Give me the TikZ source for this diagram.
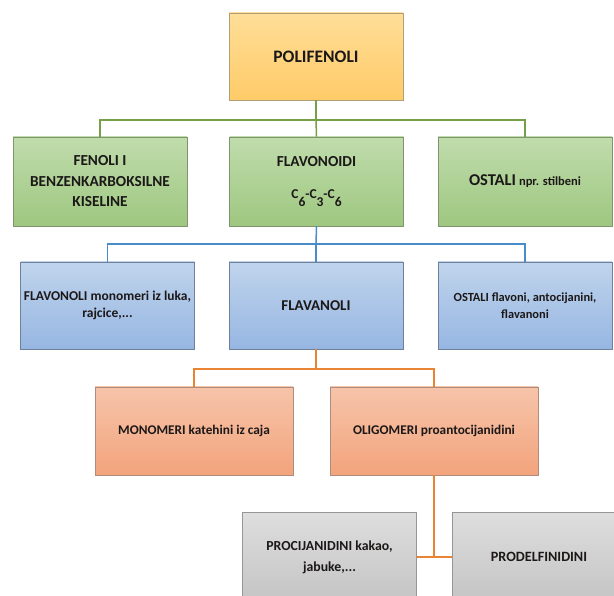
\documentclass[tikz,border=0pt]{standalone}
\usepackage{fontspec}
\setmainfont{Carlito}
\definecolor{gtop}{RGB}{255,222,152}
\definecolor{gbot}{RGB}{255,203,104}
\definecolor{gbrd}{RGB}{176,160,120}
\definecolor{grtop}{RGB}{192,220,172}
\definecolor{grbot}{RGB}{158,199,128}
\definecolor{grbrd}{RGB}{128,148,112}
\definecolor{bltop}{RGB}{192,212,236}
\definecolor{blbot}{RGB}{150,182,226}
\definecolor{blbrd}{RGB}{112,128,156}
\definecolor{ortop}{RGB}{246,196,170}
\definecolor{orbot}{RGB}{243,164,124}
\definecolor{orbrd}{RGB}{176,140,124}
\definecolor{gytop}{RGB}{222,222,222}
\definecolor{gybot}{RGB}{196,196,196}
\definecolor{gybrd}{RGB}{150,150,150}
\definecolor{lgreen}{RGB}{118,160,72}
\definecolor{lblue}{RGB}{72,140,200}
\definecolor{lorange}{RGB}{232,132,52}
\definecolor{txt}{RGB}{28,24,24}
\begin{document}
\begin{tikzpicture}[x=1pt,y=-1pt,
  box/.style={rectangle, draw, line width=0.8pt, inner sep=2pt, align=center,
    minimum width=174pt, minimum height=88pt, text=txt,
    font=\bfseries\fontsize{13}{16.5}\selectfont},
  goldbox/.style={box, top color=gtop, bottom color=gbot, draw=gbrd},
  greenbox/.style={box, top color=grtop, bottom color=grbot, draw=grbrd},
  bluebox/.style={box, top color=bltop, bottom color=blbot, draw=blbrd},
  salmonbox/.style={box, top color=ortop, bottom color=orbot, draw=orbrd},
  graybox/.style={box, top color=gytop, bottom color=gybot, draw=gybrd},
  gline/.style={draw=lgreen, line width=1.5pt},
  bline/.style={draw=lblue, line width=1.5pt},
  oline/.style={draw=lorange, line width=1.5pt}
]
\useasboundingbox (0,0) rectangle (614,596);
\clip (0,0) rectangle (614,596);
% nodes
\node[goldbox, minimum height=87pt, font=\bfseries\fontsize{17.5}{20}\selectfont] (pol) at (316,56.5) {POLIFENOLI};
\node[greenbox, minimum height=89pt, font=\bfseries\fontsize{15.3}{20.5}\selectfont] (fen) at (100,181.5) {FENOLI I\\BENZENKARBOKSILNE\\KISELINE};
\node[greenbox, minimum height=89pt] (flav) at (316.5,181.5) {\fontsize{15.3}{18}\selectfont FLAVONOIDI\\[15pt]\fontsize{13.5}{14}\selectfont C\raisebox{-8pt}{6}-C\raisebox{-8pt}{3}-C\raisebox{-8pt}{6}};
\node[greenbox, minimum height=89pt] (ost1) at (525,181.5) {{\fontsize{16.5}{18}\selectfont OSTALI} {\fontsize{12.5}{14}\selectfont npr. stilbeni}};
\node[bluebox, minimum height=87pt, font=\bfseries\fontsize{13.5}{17}\selectfont] (fvl) at (107.5,305.5) {FLAVONOLI monomeri iz luka,\\rajcice,...};
\node[bluebox, minimum height=87pt, font=\bfseries\fontsize{15}{18}\selectfont] (fva) at (316,305.5) {FLAVANOLI};
\node[bluebox, minimum height=87pt, font=\bfseries\fontsize{12.4}{17}\selectfont] (ost2) at (525,305.5) {OSTALI flavoni, antocijanini,\\flavanoni};
\node[salmonbox, minimum width=198pt, font=\bfseries\fontsize{13.3}{16}\selectfont] (mono) at (194,431) {MONOMERI katehini iz caja};
\node[salmonbox, minimum width=208pt, font=\bfseries\fontsize{13.3}{16}\selectfont] (oligo) at (434,431) {OLIGOMERI proantocijanidini};
\node[graybox, minimum height=90pt, font=\bfseries\fontsize{13.8}{21}\selectfont] (proc) at (329.5,557) {PROCIJANIDINI kakao,\\jabuke,...};
\node[graybox, minimum height=90pt, font=\bfseries\fontsize{14.2}{18}\selectfont] (prod) at (539,557) {PRODELFINIDINI};
% connectors
\coordinate (g) at (316,120);
\coordinate (b) at (316,244);
\coordinate (o) at (316,369);
\coordinate (p) at (434,557);
\draw[gline] (pol.south) -- (g);
\draw[gline] (g) -| (fen.north);
\draw[gline] (g) -| (ost1.north);
\draw[gline] (g) -- (flav.north);
\draw[bline] (flav.south) -- (b);
\draw[bline] (b) -| (fvl.north);
\draw[bline] (b) -| (ost2.north);
\draw[bline] (b) -- (fva.north);
\draw[oline] (fva.south) -- (o);
\draw[oline] (o) -| (mono.north);
\draw[oline] (o) -| (oligo.north);
\draw[oline] (oligo.south) -- (p);
\draw[oline] (proc.east) -- (prod.west);
\end{tikzpicture}
\end{document}
